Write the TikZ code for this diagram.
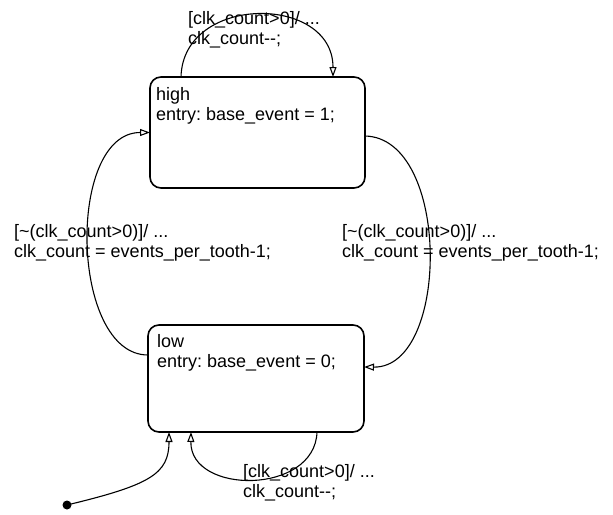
\documentclass[tikz,border=0pt]{standalone}
\usepackage{fontspec}
\setmainfont{Liberation Sans}
\usetikzlibrary{arrows.meta,calc}
\begin{document}
\frenchspacing
\begin{tikzpicture}[x=1pt,y=-1pt,
  state/.style={draw, line width=1.6pt, rounded corners=11pt, minimum width=215pt, minimum height=111pt, inner sep=0pt, outer sep=0pt},
  txt/.style={anchor=north west, inner sep=0pt, align=left, font=\fontsize{18}{20.5}\selectfont},
  trans/.style={line width=1.1pt, -{Triangle[open,length=10pt,width=7pt]}}]
\useasboundingbox (0,0) rectangle (613,514);
\node[state] (high) at (257.5,132.5) {};
\node[state, minimum width=216pt, minimum height=107pt] (low) at (256,378.5) {};
\node[txt] (hight) at (156,87) {high\\entry: base\_event = 1;};
\node[txt] (lowt) at (157,334) {low\\entry: base\_event = 0;};
\node[txt] (lbltop) at (188,11) {[clk\_count>0]/ ...\\clk\_count-{}-;};
\node[txt] (lblleft) at (14,224) {[\textasciitilde(clk\_count>0)]/ ...\\clk\_count = events\_per\_tooth-1;};
\node[txt] (lblright) at (342,224) {[\textasciitilde(clk\_count>0)]/ ...\\clk\_count = events\_per\_tooth-1;};
\node[txt] (lblbot) at (243,464) {[clk\_count>0]/ ...\\clk\_count-{}-;};
\node[circle, fill, inner sep=0pt, minimum size=9pt] (init) at (67,505) {};
% self loop on high
\draw[trans] ([xshift=31pt]high.north west) .. controls +(2,-83) and +(0,-83) .. ([xshift=183pt]high.north west);
% high -> low (right)
\draw[trans] ([yshift=-3.5pt]high.east) .. controls +(86,2) and +(86,1) .. ([yshift=11.5pt]low.east);
% low -> high (left)
\draw[trans] ([yshift=23.5pt]low.west) .. controls +(-78,0) and +(-84,0) .. (high.west);
% self loop on low
\draw[trans] ([xshift=169pt]low.south west) .. controls +(-2,63) and +(-1,63) .. ([xshift=43pt]low.south west);
% default transition
\draw[trans] (init.center) .. controls +(83,-20) and +(0,42) .. ([xshift=21pt]low.south west);
\end{tikzpicture}
\end{document}
